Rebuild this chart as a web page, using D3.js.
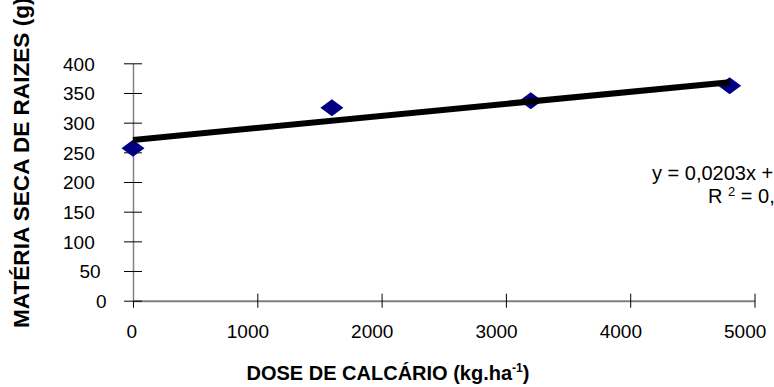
<!DOCTYPE html>
<html>
<head>
<meta charset="utf-8">
<script src="https://cdn.jsdelivr.net/npm/d3@7"></script>
<style>
  body { margin: 0; background: #fff; }
  text { font-family: Arial, "Liberation Sans", sans-serif; }
</style>
</head>
<body>
<div class="canvas"></div>
<script>
// data
const doses = [0, 1600, 3200, 4800];
const massa = [257, 325, 337, 362];
const xTicks = [0, 1000, 2000, 3000, 4000, 5000];
const yTicks = [0, 50, 100, 150, 200, 250, 300, 350, 400];
// trendline as printed on the chart
const slope = 0.0203;
const intercept = 270.8;
const eqText = "y = 0,0203x + 270,8";
const r2Text = " = 0,88";

const svg = d3
  .select(".canvas")
  .append("svg")
  .attr("width", 774)
  .attr("height", 387);

const x = d3.scaleLinear().domain([0, 5000]).range([133, 754.5]);
const y = d3.scaleLinear().domain([0, 400]).range([300.7, 63.3]);

// axes
const xAxisGroup = svg.append("g").attr("transform", `translate(0, ${y(0)})`);
const yAxisGroup = svg.append("g").attr("transform", `translate(${x(0)}, 0)`);

const xAxis = d3
  .axisBottom(x)
  .tickValues(xTicks)
  .tickFormat(d3.format("d"))
  .tickSize(7)
  .tickSizeOuter(0);
const yAxis = d3
  .axisLeft(y)
  .tickValues(yTicks)
  .tickFormat(d3.format("d"))
  .tickSize(9)
  .tickSizeOuter(0);

xAxisGroup.call(xAxis);
yAxisGroup.call(yAxis);

xAxisGroup.select(".domain").attr("stroke", "#808080").attr("stroke-width", 2);
yAxisGroup.select(".domain").attr("stroke", "#808080").attr("stroke-width", 1.5);

xAxisGroup.selectAll(".tick line").attr("y1", -7).attr("y2", 7).attr("stroke", "#000");
yAxisGroup.selectAll(".tick line").attr("x1", 9).attr("x2", -9).attr("stroke", "#000");

xAxisGroup
  .selectAll(".tick text")
  .attr("font-size", 19)
  .attr("fill", "#000")
  .attr("text-anchor", "start")
  .attr("dy", null)
  .attr("y", 37)
  .attr("x", (d) => 1 - 8 * String(d).length);

yAxisGroup
  .selectAll(".tick text")
  .attr("font-size", 19)
  .attr("fill", "#000")
  .attr("text-anchor", "start")
  .attr("dy", "0.36em")
  .attr("x", (d) => -20.5 - 16.5 * String(d).length);

// points
const pts = doses.map((d, i) => ({ dose: d, massa: massa[i] }));

svg
  .selectAll("path.pt")
  .data(pts)
  .enter()
  .append("path")
  .attr("class", "pt")
  .attr("d", "M0,-8.5L11.5,0L0,8.5L-11.5,0Z")
  .attr("fill", "#000080")
  .attr("transform", (d) => `translate(${x(d.dose)}, ${y(d.massa)})`);

// linear trendline
const x0 = d3.min(doses);
const x1 = d3.max(doses);
svg
  .append("line")
  .attr("x1", x(x0))
  .attr("y1", y(intercept + slope * x0))
  .attr("x2", x(x1))
  .attr("y2", y(intercept + slope * x1))
  .attr("stroke", "#000")
  .attr("stroke-width", 6);

// equation label (runs off the right edge, as in the original)
svg
  .append("text")
  .attr("x", 652)
  .attr("y", 180)
  .attr("font-size", 20)
  .text(eqText);

const r2 = svg.append("text").attr("x", 708).attr("y", 202.5).attr("font-size", 20);
r2.append("tspan").text("R ");
r2.append("tspan").attr("dy", -7).attr("font-size", 13).text("2");
r2.append("tspan").attr("dy", 7).text(r2Text);

// axis titles
const xTitle = svg
  .append("text")
  .attr("x", 388)
  .attr("y", 380)
  .attr("text-anchor", "middle")
  .attr("font-size", 20)
  .attr("font-weight", "bold");
xTitle.append("tspan").text("DOSE DE CALCÁRIO (kg.ha");
xTitle.append("tspan").attr("dy", -8).attr("font-size", 12).text("-1");
xTitle.append("tspan").attr("dy", 8).text(")");

svg
  .append("text")
  .attr("transform", "translate(29, 328) rotate(-90)")
  .attr("font-size", 22.6)
  .attr("font-weight", "bold")
  .text("MATÉRIA SECA DE RAIZES (g)");
</script>
</body>
</html>
